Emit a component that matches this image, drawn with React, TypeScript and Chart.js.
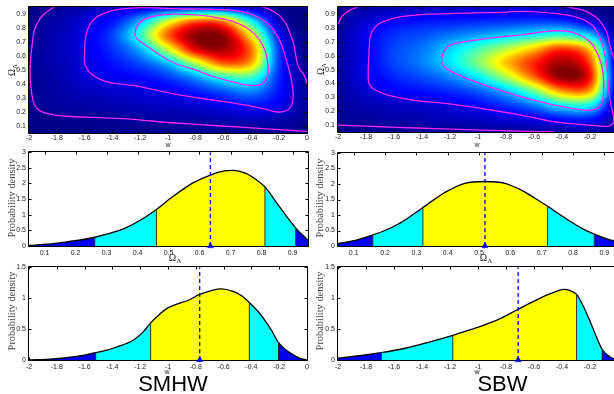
import React, { useEffect, useRef } from "react";
import { Chart, registerables } from "chart.js";
Chart.register(...registerables);

// ---------------- tick labels ----------------
const W_TICKS = [-2, -1.8, -1.6, -1.4, -1.2, -1, -0.8, -0.6, -0.4, -0.2, 0];
const OMEGA_TICKS = [0.1, 0.2, 0.3, 0.4, 0.5, 0.6, 0.7, 0.8, 0.9];
const PDF_OMEGA_Y_TICKS = [0, 0.5, 1, 1.5, 2, 2.5, 3];
const PDF_W_Y_TICKS = [0, 0.5, 1, 1.5];

// ---------------- 2D posterior grids (normalised density) ----------------
const HEAT_W_NODES = [-2, -1.8, -1.6, -1.4, -1.2, -1, -0.8, -0.6, -0.4, -0.2, 0];
const HEAT_OMEGA_NODES = [0.95, 0.85, 0.75, 0.65, 0.55, 0.45, 0.35, 0.25, 0.15, 0.05];

const SMHW_HEAT = [
  [0.01, 0.025, 0.05, 0.08, 0.1, 0.12, 0.13, 0.12, 0.07, 0.02, 0.01],
  [0.02, 0.045, 0.085, 0.14, 0.3, 0.58, 0.78, 0.74, 0.38, 0.06, 0.0],
  [0.025, 0.05, 0.1, 0.19, 0.42, 0.78, 0.98, 0.97, 0.63, 0.13, 0.01],
  [0.025, 0.05, 0.1, 0.17, 0.3, 0.58, 0.9, 0.96, 0.76, 0.18, 0.01],
  [0.025, 0.05, 0.09, 0.14, 0.2, 0.32, 0.56, 0.78, 0.7, 0.18, 0.02],
  [0.02, 0.04, 0.085, 0.11, 0.13, 0.18, 0.28, 0.42, 0.44, 0.16, 0.03],
  [0.02, 0.035, 0.06, 0.075, 0.09, 0.11, 0.15, 0.21, 0.26, 0.14, 0.03],
  [0.015, 0.03, 0.04, 0.05, 0.06, 0.07, 0.085, 0.11, 0.14, 0.11, 0.03],
  [0.01, 0.015, 0.02, 0.025, 0.03, 0.035, 0.04, 0.05, 0.06, 0.05, 0.02],
  [0.005, 0.01, 0.01, 0.015, 0.015, 0.02, 0.02, 0.02, 0.02, 0.02, 0.01],
];

const SBW_HEAT = [
  [0.02, 0.04, 0.05, 0.06, 0.07, 0.075, 0.08, 0.08, 0.05, 0.015, 0.005],
  [0.03, 0.08, 0.12, 0.14, 0.15, 0.16, 0.17, 0.18, 0.17, 0.09, 0.01],
  [0.04, 0.11, 0.17, 0.2, 0.24, 0.28, 0.33, 0.38, 0.42, 0.32, 0.02],
  [0.04, 0.11, 0.19, 0.24, 0.33, 0.44, 0.55, 0.68, 0.82, 0.66, 0.03],
  [0.04, 0.11, 0.19, 0.25, 0.35, 0.5, 0.68, 0.84, 0.96, 0.8, 0.04],
  [0.04, 0.1, 0.16, 0.2, 0.26, 0.37, 0.55, 0.78, 0.99, 0.86, 0.05],
  [0.035, 0.08, 0.12, 0.14, 0.17, 0.22, 0.32, 0.5, 0.74, 0.72, 0.05],
  [0.03, 0.05, 0.07, 0.08, 0.1, 0.13, 0.18, 0.26, 0.4, 0.4, 0.04],
  [0.025, 0.03, 0.04, 0.05, 0.06, 0.07, 0.09, 0.11, 0.15, 0.16, 0.03],
  [0.015, 0.02, 0.02, 0.025, 0.025, 0.03, 0.03, 0.035, 0.04, 0.05, 0.02],
];

// ---------------- contours [w, Omega_Lambda] ----------------
const SMHW_INNER = [
  [-1.24, 0.75], [-1.22, 0.82], [-1.17, 0.865], [-1.08, 0.89], [-0.96, 0.9], [-0.8, 0.895], [-0.676, 0.88],
  [-0.51, 0.84], [-0.39, 0.77], [-0.31, 0.66], [-0.28, 0.53], [-0.29, 0.44], [-0.34, 0.395], [-0.44, 0.394],
  [-0.55, 0.42], [-0.68, 0.455], [-0.8, 0.5], [-0.93, 0.54], [-1.03, 0.59], [-1.15, 0.67], [-1.22, 0.72],
];
const SMHW_MIDDLE = [
  [-1.6, 0.62], [-1.595, 0.72], [-1.575, 0.8], [-1.52, 0.875], [-1.4, 0.925], [-1.25, 0.945], [-1.1, 0.946],
  [-0.92, 0.938], [-0.68, 0.935], [-0.44, 0.912], [-0.29, 0.84], [-0.2, 0.72], [-0.15, 0.575], [-0.112, 0.43],
  [-0.1, 0.31], [-0.124, 0.226], [-0.196, 0.2], [-0.3, 0.22], [-0.44, 0.25], [-0.68, 0.286], [-0.92, 0.322],
  [-1.1, 0.36], [-1.25, 0.39], [-1.45, 0.42], [-1.56, 0.48], [-1.6, 0.55],
];
const SMHW_OUTER_A = [
  [-1.815, 0.955], [-1.88, 0.91], [-1.923, 0.864], [-1.96, 0.79], [-1.975, 0.7], [-1.99, 0.55], [-1.99, 0.43],
  [-1.98, 0.33], [-1.96, 0.25], [-1.923, 0.21], [-1.85, 0.185], [-1.73, 0.17], [-1.5, 0.16], [-1.25, 0.148],
  [-1.0, 0.125], [-0.77, 0.11], [-0.45, 0.09], [-0.29, 0.08], [-0.1, 0.068], [0, 0.062],
];
const SMHW_OUTER_B = [
  [-0.33, 0.955], [-0.26, 0.93], [-0.196, 0.888], [-0.15, 0.83], [-0.124, 0.768], [-0.1, 0.7], [-0.088, 0.647],
  [-0.07, 0.55], [-0.05, 0.5], [-0.029, 0.479], [-0.01, 0.44], [0, 0.4],
];

const SBW_INNER = [
  [-1.26, 0.58], [-1.24, 0.64], [-1.19, 0.68], [-1.04, 0.71], [-0.85, 0.735], [-0.69, 0.75], [-0.55, 0.77],
  [-0.45, 0.78], [-0.33, 0.77], [-0.21, 0.71], [-0.14, 0.6], [-0.105, 0.46], [-0.105, 0.315], [-0.13, 0.232],
  [-0.21, 0.207], [-0.33, 0.22], [-0.45, 0.243], [-0.69, 0.303], [-0.9, 0.37], [-1.04, 0.42], [-1.18, 0.48],
  [-1.25, 0.53],
];
const SBW_MIDDLE = [
  [-1.78, 0.58], [-1.775, 0.69], [-1.76, 0.77], [-1.69, 0.84], [-1.52, 0.885], [-1.16, 0.905], [-0.8, 0.915],
  [-0.69, 0.92], [-0.45, 0.905], [-0.29, 0.877], [-0.18, 0.816], [-0.117, 0.697], [-0.081, 0.53], [-0.065, 0.339],
  [-0.045, 0.22], [-0.03, 0.13], [-0.06, 0.095], [-0.15, 0.095], [-0.25, 0.103], [-0.453, 0.124], [-0.693, 0.172],
  [-0.98, 0.22], [-1.22, 0.255], [-1.46, 0.279], [-1.676, 0.327], [-1.772, 0.387], [-1.784, 0.48],
];
const SBW_OUTER_A = [[-2, 0.1], [-1.8, 0.092], [-1.58, 0.084], [-1.3, 0.074], [-0.98, 0.064], [-0.7, 0.056], [-0.45, 0.05]];
const SBW_OUTER_B = [[-2, 0.83], [-1.97, 0.885], [-1.92, 0.925], [-1.85, 0.955]];
const SBW_OUTER_C = [
  [-0.369, 0.955], [-0.3, 0.94], [-0.237, 0.924], [-0.141, 0.864], [-0.081, 0.769], [-0.058, 0.673],
  [-0.033, 0.59], [-0.017, 0.556], [0, 0.52],
];

// ---------------- 1D marginals ----------------
const SMHW_OMEGA_X = [0.05, 0.1, 0.17, 0.22, 0.262, 0.31, 0.36, 0.41, 0.461, 0.514, 0.579, 0.635, 0.68, 0.707, 0.75, 0.78, 0.811, 0.857, 0.91, 0.95];
const SMHW_OMEGA_Y = [0.02, 0.05, 0.13, 0.2, 0.28, 0.4, 0.57, 0.83, 1.17, 1.58, 2.02, 2.27, 2.4, 2.42, 2.32, 2.14, 1.89, 1.27, 0.58, 0.18];
const SMHW_OMEGA_BOUNDS = [0.262, 0.461, 0.811, 0.91];
const SMHW_OMEGA_BOUND_Y = [0.28, 1.17, 1.89, 0.58];
const SMHW_OMEGA_MEAN = 0.635;

const SBW_OMEGA_X = [0.05, 0.1, 0.161, 0.2, 0.241, 0.28, 0.321, 0.36, 0.39, 0.455, 0.519, 0.583, 0.647, 0.68, 0.719, 0.76, 0.797, 0.83, 0.868, 0.91, 0.95];
const SBW_OMEGA_Y = [0.08, 0.17, 0.36, 0.5, 0.7, 0.95, 1.24, 1.52, 1.72, 2.02, 2.08, 2.02, 1.74, 1.53, 1.28, 1.0, 0.76, 0.56, 0.38, 0.22, 0.12];
const SBW_OMEGA_BOUNDS = [0.161, 0.321, 0.719, 0.868];
const SBW_OMEGA_BOUND_Y = [0.36, 1.24, 1.28, 0.38];
const SBW_OMEGA_MEAN = 0.519;

const SMHW_W_X = [-2, -1.85, -1.73, -1.6, -1.52, -1.44, -1.37, -1.25, -1.18, -1.125, -1.06, -1.01, -0.95, -0.85, -0.772, -0.676, -0.616, -0.532, -0.47, -0.415, -0.35, -0.293, -0.25, -0.205, -0.125, -0.053, 0];
const SMHW_W_Y = [0.0, 0.015, 0.04, 0.08, 0.12, 0.16, 0.21, 0.32, 0.45, 0.6, 0.74, 0.83, 0.89, 0.97, 1.06, 1.13, 1.15, 1.11, 1.04, 0.93, 0.78, 0.61, 0.46, 0.28, 0.12, 0.03, 0.0];
const SMHW_W_BOUNDS = [-1.52, -1.125, -0.415, -0.205];
const SMHW_W_BOUND_Y = [0.12, 0.6, 0.93, 0.28];
const SMHW_W_MEAN = -0.772;

const SBW_W_X = [-2, -1.85, -1.69, -1.52, -1.35, -1.18, -1.0, -0.85, -0.713, -0.556, -0.45, -0.388, -0.34, -0.296, -0.25, -0.195, -0.15, -0.113, -0.05, 0];
const SBW_W_Y = [0.03, 0.07, 0.12, 0.19, 0.29, 0.4, 0.53, 0.66, 0.82, 1.0, 1.1, 1.14, 1.12, 1.06, 0.88, 0.6, 0.35, 0.17, 0.04, 0.01];
const SBW_W_BOUNDS = [-1.69, -1.18, -0.296, -0.113];
const SBW_W_BOUND_Y = [0.12, 0.4, 1.06, 0.17];
const SBW_W_MEAN = -0.713;

// ---------------- helpers ----------------
const TICK_FONT = { family: "'Liberation Sans', Arial, sans-serif", size: 7 };
const TICK_COLOR = "#222";
const MAGENTA = "rgb(240,40,240)";
const REGION_COLORS = ["#0000f0", "#00ffff", "#ffff00", "#00ffff", "#0000f0"];

const fmt = (v: number) => String(Math.round(v * 100) / 100);
const clamp = (v: number, a: number, b: number) => Math.max(a, Math.min(b, v));

function jet(v: number) {
  v = clamp(v, 0, 1);
  const r = clamp(1.5 - Math.abs(4 * v - 3), 0, 1);
  const g = clamp(1.5 - Math.abs(4 * v - 2), 0, 1);
  const b = clamp(1.5 - Math.abs(4 * v - 1), 0, 1);
  return [r * 255, g * 255, b * 255];
}

function sampleGrid(grid: number[][], xs: number[], ys: number[], x: number, y: number) {
  const nx = xs.length, ny = ys.length;
  const fx = clamp((x - xs[0]) / (xs[1] - xs[0]), 0, nx - 1);
  const fy = clamp((y - ys[0]) / (ys[1] - ys[0]), 0, ny - 1);
  const ix = Math.min(nx - 2, Math.floor(fx));
  const iy = Math.min(ny - 2, Math.floor(fy));
  const tx = fx - ix, ty = fy - iy;
  const g = (r: number, c: number) => grid[clamp(r, 0, ny - 1)][clamp(c, 0, nx - 1)];
  const cr = (p0: number, p1: number, p2: number, p3: number, t: number) =>
    0.5 * (2 * p1 + (-p0 + p2) * t + (2 * p0 - 5 * p1 + 4 * p2 - p3) * t * t + (-p0 + 3 * p1 - 3 * p2 + p3) * t * t * t);
  const rows = [-1, 0, 1, 2].map((d) => cr(g(iy + d, ix - 1), g(iy + d, ix), g(iy + d, ix + 1), g(iy + d, ix + 2), tx));
  return cr(rows[0], rows[1], rows[2], rows[3], ty);
}

function heatPlugin(grid: number[][]) {
  return {
    id: "heat",
    beforeDatasetsDraw(chart: any) {
      const { ctx, chartArea: a, scales } = chart;
      const w = Math.round(a.right - a.left), h = Math.round(a.bottom - a.top);
      const off = document.createElement("canvas");
      off.width = w;
      off.height = h;
      const octx = off.getContext("2d")!;
      const img = octx.createImageData(w, h);
      for (let py = 0; py < h; py++) {
        const yv = scales.y.getValueForPixel(a.top + py + 0.5);
        for (let px = 0; px < w; px++) {
          const xv = scales.x.getValueForPixel(a.left + px + 0.5);
          const c = jet(sampleGrid(grid, HEAT_W_NODES, HEAT_OMEGA_NODES, xv, yv));
          const k = (py * w + px) * 4;
          img.data[k] = c[0];
          img.data[k + 1] = c[1];
          img.data[k + 2] = c[2];
          img.data[k + 3] = 255;
        }
      }
      octx.putImageData(img, 0, 0);
      ctx.drawImage(off, a.left, a.top);
    },
  };
}

const boxPlugin = {
  id: "box",
  beforeDatasetsDraw(chart: any) {
    const { ctx, chartArea: a, scales } = chart;
    const L = Math.round(a.left) - 0.5, R = Math.round(a.right) + 0.5;
    const T = Math.round(a.top) - 0.5, B = Math.round(a.bottom) + 0.5;
    const len = 3;
    ctx.save();
    ctx.strokeStyle = "#000";
    ctx.lineWidth = 1;
    ctx.beginPath();
    ctx.rect(L, T, R - L, B - T);
    for (const t of scales.x.ticks) {
      const x = Math.round(scales.x.getPixelForValue(t.value)) + 0.5;
      ctx.moveTo(x, B); ctx.lineTo(x, B - len);
      ctx.moveTo(x, T); ctx.lineTo(x, T + len);
    }
    for (const t of scales.y.ticks) {
      const y = Math.round(scales.y.getPixelForValue(t.value)) + 0.5;
      ctx.moveTo(L, y); ctx.lineTo(L + len, y);
      ctx.moveTo(R, y); ctx.lineTo(R - len, y);
    }
    ctx.stroke();
    ctx.restore();
  },
};

function makeScales(xMin: number, xMax: number, xTicks: number[], yMin: number, yMax: number, yTicks: number[], yW: number, xH: number, xPad: number) {
  const common = {
    type: "linear",
    grid: { display: false, drawTicks: false },
    border: { display: false },
  };
  return {
    x: {
      ...common, min: xMin, max: xMax,
      afterBuildTicks: (s: any) => { s.ticks = xTicks.map((v) => ({ value: v })); },
      afterFit: (s: any) => { s.height = xH; },
      ticks: { font: TICK_FONT, color: TICK_COLOR, padding: xPad, maxRotation: 0, minRotation: 0, autoSkip: false, callback: (v: number) => fmt(v) },
    },
    y: {
      ...common, min: yMin, max: yMax,
      afterBuildTicks: (s: any) => { s.ticks = yTicks.map((v) => ({ value: v })); },
      afterFit: (s: any) => { s.width = yW; },
      ticks: { font: TICK_FONT, color: TICK_COLOR, padding: 3, autoSkip: false, callback: (v: number) => fmt(v) },
    },
  };
}

const baseOptions = (padTop: number, padRight: number) => ({
  responsive: false,
  animation: false,
  devicePixelRatio: 1,
  events: [],
  layout: { autoPadding: false, padding: { top: padTop, right: padRight, left: 0, bottom: 0 } },
  plugins: { legend: { display: false }, tooltip: { enabled: false } },
});

const toPts = (p: number[][]) => p.map(([x, y]) => ({ x, y }));

function heatConfig(grid: number[][], closed: number[][][], open: number[][][], padTop: number, padRight: number, yW: number, xH: number) {
  const ds = (pts: number[][]) => ({
    data: toPts(pts), borderColor: MAGENTA, borderWidth: 1.3, pointRadius: 0, tension: 0.4, fill: false,
  });
  return {
    type: "line",
    data: { datasets: [...closed.map((c) => ds([...c, c[0]])), ...open.map((c) => ds(c))] },
    options: { ...baseOptions(padTop, padRight), scales: makeScales(-2, 0, W_TICKS, 0.05, 0.95, OMEGA_TICKS, yW, xH, 1) },
    plugins: [heatPlugin(grid), boxPlugin],
  };
}

function pdfConfig(xs: number[], ys: number[], bounds: number[], boundY: number[], mean: number,
  xMin: number, xMax: number, xTicks: number[], yMax: number, yTicks: number[],
  padTop: number, padRight: number, yW: number, xH: number) {
  const fillColor = (c: any) => {
    const ch = c.chart;
    const a = ch.chartArea;
    if (!a) return REGION_COLORS[2];
    const sx = ch.scales.x;
    const g = ch.ctx.createLinearGradient(a.left, 0, a.right, 0);
    g.addColorStop(0, REGION_COLORS[0]);
    bounds.forEach((b, i) => {
      const p = clamp((sx.getPixelForValue(b) - a.left) / (a.right - a.left), 0, 1);
      g.addColorStop(p, REGION_COLORS[i]);
      g.addColorStop(p, REGION_COLORS[i + 1]);
    });
    g.addColorStop(1, REGION_COLORS[bounds.length]);
    return g;
  };
  return {
    type: "line",
    data: {
      datasets: [
        {
          data: xs.map((x, i) => ({ x, y: ys[i] })), borderColor: "#000", borderWidth: 1.3, pointRadius: 0,
          cubicInterpolationMode: "monotone", fill: "origin", backgroundColor: fillColor, order: 5,
        },
        ...bounds.map((b, i) => ({
          data: [{ x: b, y: 0 }, { x: b, y: boundY[i] }], borderColor: "#333", borderWidth: 1, pointRadius: 0, fill: false, order: 4,
        })),
        {
          data: [{ x: mean, y: 0 }, { x: mean, y: yMax }], borderColor: "#0000ff", borderWidth: 1.3, borderDash: [4, 3],
          pointRadius: 0, fill: false, order: 2,
        },
        {
          data: [{ x: mean, y: 0 }], showLine: false, pointStyle: "triangle", pointRadius: 3.5,
          pointBackgroundColor: "#0000ff", pointBorderColor: "#0000ff", pointBorderWidth: 0.5, clip: false, order: 1,
        },
      ],
    },
    options: { ...baseOptions(padTop, padRight), scales: makeScales(xMin, xMax, xTicks, 0, yMax, yTicks, yW, xH, 3) },
    plugins: [boxPlugin],
  };
}

function ChartBox({ left, top, width, height, make }: any) {
  const ref = useRef<HTMLCanvasElement>(null);
  useEffect(() => {
    const chart = new Chart(ref.current as any, make());
    return () => chart.destroy();
  }, []);
  return <canvas ref={ref} width={width} height={height} style={{ position: "absolute", left, top, width, height }} />;
}

function Label({ x, y, rot, size, serif, color, children }: any) {
  return (
    <div
      style={{
        position: "absolute", left: x, top: y, whiteSpace: "nowrap", lineHeight: 1,
        transform: `translate(-50%, -50%)${rot ? " rotate(-90deg)" : ""}`,
        fontFamily: serif ? "'Liberation Serif', 'Times New Roman', serif" : "'Liberation Sans', Arial, sans-serif",
        fontSize: size, color: color || "#222",
      }}
    >
      {children}
    </div>
  );
}

const OmegaL = () => (
  <span>
    Ω<span style={{ fontSize: "0.7em", position: "relative", top: "0.3em" }}>Λ</span>
  </span>
);

export default function App() {
  return (
    <div style={{ position: "fixed", left: 0, top: 0, width: 614, height: 394, overflow: "hidden", background: "#fff" }}>
      <ChartBox left={0} top={0} width={312} height={145}
        make={() => heatConfig(SMHW_HEAT, [SMHW_INNER, SMHW_MIDDLE], [SMHW_OUTER_A, SMHW_OUTER_B], 7, 5, 29, 12)} />
      <ChartBox left={305} top={0} width={320} height={145}
        make={() => heatConfig(SBW_HEAT, [SBW_INNER, SBW_MIDDLE], [SBW_OUTER_A, SBW_OUTER_B, SBW_OUTER_C], 7, 7, 33, 13)} />
      <ChartBox left={0} top={145} width={312} height={120}
        make={() => pdfConfig(SMHW_OMEGA_X, SMHW_OMEGA_Y, SMHW_OMEGA_BOUNDS, SMHW_OMEGA_BOUND_Y, SMHW_OMEGA_MEAN,
          0.05, 0.95, OMEGA_TICKS, 3, PDF_OMEGA_Y_TICKS, 7, 4, 29, 19)} />
      <ChartBox left={305} top={145} width={320} height={120}
        make={() => pdfConfig(SBW_OMEGA_X, SBW_OMEGA_Y, SBW_OMEGA_BOUNDS, SBW_OMEGA_BOUND_Y, SBW_OMEGA_MEAN,
          0.05, 0.95, OMEGA_TICKS, 3, PDF_OMEGA_Y_TICKS, 8, 5, 33, 19)} />
      <ChartBox left={0} top={260} width={312} height={112}
        make={() => pdfConfig(SMHW_W_X, SMHW_W_Y, SMHW_W_BOUNDS, SMHW_W_BOUND_Y, SMHW_W_MEAN,
          -2, 0, W_TICKS, 1.5, PDF_W_Y_TICKS, 7, 5, 29, 12)} />
      <ChartBox left={305} top={260} width={320} height={112}
        make={() => pdfConfig(SBW_W_X, SBW_W_Y, SBW_W_BOUNDS, SBW_W_BOUND_Y, SBW_W_MEAN,
          -2, 0, W_TICKS, 1.5, PDF_W_Y_TICKS, 7, 7, 33, 12)} />

      {/* heatmap axis titles */}
      <Label x={12.5} y={70} rot serif size={9.5}><OmegaL /></Label>
      <Label x={322} y={69} rot serif size={9.5}><OmegaL /></Label>
      <Label x={168} y={144} size={7}>w</Label>
      <Label x={477} y={144} size={7}>w</Label>

      {/* Omega marginals */}
      <Label x={11.5} y={198} rot serif size={10.4} color="#444">Probability density</Label>
      <Label x={320} y={198} rot serif size={10.4} color="#444">Probability density</Label>
      <Label x={175} y={258} serif size={10}><OmegaL /></Label>
      <Label x={486} y={258} serif size={10}><OmegaL /></Label>

      {/* w marginals */}
      <Label x={11.5} y={311} rot serif size={10.4} color="#444">Probability density</Label>
      <Label x={320} y={311} rot serif size={10.4} color="#444">Probability density</Label>
      <Label x={167} y={371} size={7}>w</Label>
      <Label x={477} y={371} size={7}>w</Label>

      <Label x={173} y={384} size={22} color="#000">SMHW</Label>
      <Label x={502.5} y={384} size={22} color="#000">SBW</Label>
    </div>
  );
}
